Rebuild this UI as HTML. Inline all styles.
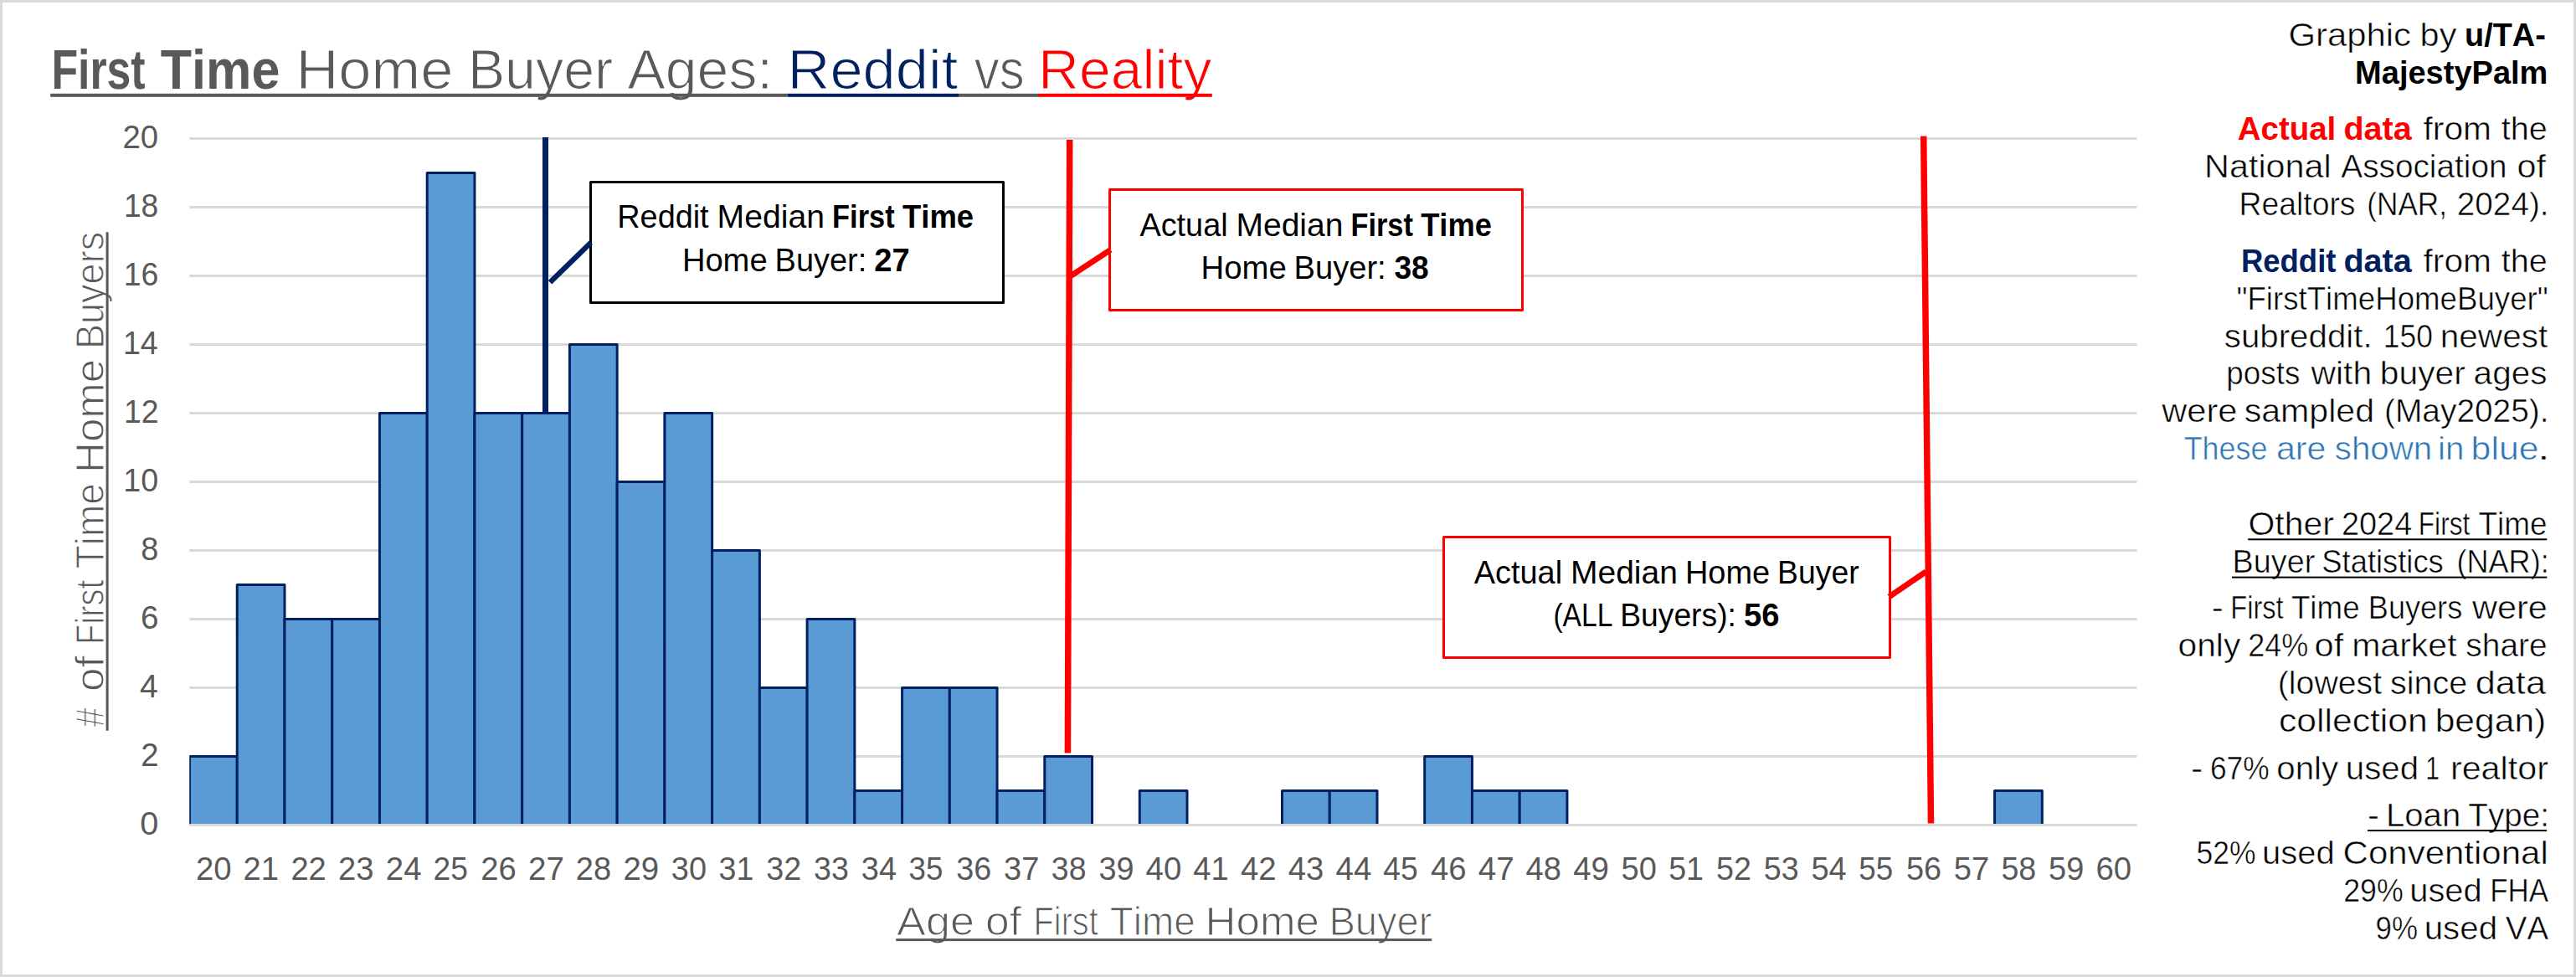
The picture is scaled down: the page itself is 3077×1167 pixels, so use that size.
<!DOCTYPE html>
<html lang="en"><head><meta charset="utf-8"><title>First Time Home Buyer Ages: Reddit vs Reality</title>
<style>html,body{margin:0;padding:0;background:#fff;}svg{display:block;font-family:"Liberation Sans",sans-serif;}text{font-kerning:none;}</style></head><body>
<svg width="3077" height="1167" viewBox="0 0 3077 1167">
<rect x="0" y="0" width="3077" height="1167" fill="#fff"/>
<rect x="1.5" y="1.5" width="3074" height="1164" fill="none" stroke="#D9D9D9" stroke-width="3"/>
<rect x="226.3" y="902.0" width="2326.3" height="3" fill="#D9D9D9"/>
<rect x="226.3" y="820.0" width="2326.3" height="3" fill="#D9D9D9"/>
<rect x="226.3" y="738.0" width="2326.3" height="3" fill="#D9D9D9"/>
<rect x="226.3" y="656.0" width="2326.3" height="3" fill="#D9D9D9"/>
<rect x="226.3" y="574.0" width="2326.3" height="3" fill="#D9D9D9"/>
<rect x="226.3" y="492.0" width="2326.3" height="3" fill="#D9D9D9"/>
<rect x="226.3" y="410.0" width="2326.3" height="3" fill="#D9D9D9"/>
<rect x="226.3" y="328.0" width="2326.3" height="3" fill="#D9D9D9"/>
<rect x="226.3" y="246.0" width="2326.3" height="3" fill="#D9D9D9"/>
<rect x="226.3" y="164.0" width="2326.3" height="3" fill="#D9D9D9"/>
<rect x="648" y="164" width="7" height="329.5" fill="#002060"/>
<clipPath id="pc"><rect x="226.3" y="100" width="2326.3" height="885.5"/></clipPath>
<g clip-path="url(#pc)" fill="#5B9BD5" stroke="#002060" stroke-width="3" stroke-linejoin="round">
<rect x="226.50" y="903.50" width="56.74" height="87.00"/>
<rect x="283.24" y="698.50" width="56.74" height="292.00"/>
<rect x="339.98" y="739.50" width="56.74" height="251.00"/>
<rect x="396.72" y="739.50" width="56.74" height="251.00"/>
<rect x="453.46" y="493.50" width="56.74" height="497.00"/>
<rect x="510.20" y="206.50" width="56.74" height="784.00"/>
<rect x="566.93" y="493.50" width="56.74" height="497.00"/>
<rect x="623.67" y="493.50" width="56.74" height="497.00"/>
<rect x="680.41" y="411.50" width="56.74" height="579.00"/>
<rect x="737.15" y="575.50" width="56.74" height="415.00"/>
<rect x="793.89" y="493.50" width="56.74" height="497.00"/>
<rect x="850.63" y="657.50" width="56.74" height="333.00"/>
<rect x="907.37" y="821.50" width="56.74" height="169.00"/>
<rect x="964.11" y="739.50" width="56.74" height="251.00"/>
<rect x="1020.85" y="944.50" width="56.74" height="46.00"/>
<rect x="1077.59" y="821.50" width="56.74" height="169.00"/>
<rect x="1134.32" y="821.50" width="56.74" height="169.00"/>
<rect x="1191.06" y="944.50" width="56.74" height="46.00"/>
<rect x="1247.80" y="903.50" width="56.74" height="87.00"/>
<rect x="1361.28" y="944.50" width="56.74" height="46.00"/>
<rect x="1531.50" y="944.50" width="56.74" height="46.00"/>
<rect x="1588.24" y="944.50" width="56.74" height="46.00"/>
<rect x="1701.71" y="903.50" width="56.74" height="87.00"/>
<rect x="1758.45" y="944.50" width="56.74" height="46.00"/>
<rect x="1815.19" y="944.50" width="56.74" height="46.00"/>
<rect x="2382.58" y="944.50" width="56.74" height="46.00"/>
</g>
<rect x="226.3" y="984.0" width="2326.3" height="3" fill="#D9D9D9"/>
<text y="997.1" font-size="38.30"><tspan x="167.2" fill="#595959" textLength="22.1" lengthAdjust="spacingAndGlyphs">0</tspan></text>
<text y="915.1" font-size="38.30"><tspan x="168.3" fill="#595959" textLength="21.3" lengthAdjust="spacingAndGlyphs">2</tspan></text>
<text y="833.1" font-size="38.30"><tspan x="167.1" fill="#595959" textLength="21.8" lengthAdjust="spacingAndGlyphs">4</tspan></text>
<text y="751.1" font-size="38.30"><tspan x="167.9" fill="#595959" textLength="21.5" lengthAdjust="spacingAndGlyphs">6</tspan></text>
<text y="669.1" font-size="38.30"><tspan x="168.3" fill="#595959" textLength="21.1" lengthAdjust="spacingAndGlyphs">8</tspan></text>
<text y="587.1" font-size="38.30"><tspan x="147.3" fill="#595959" textLength="41.9" lengthAdjust="spacingAndGlyphs">10</tspan></text>
<text y="505.1" font-size="38.30"><tspan x="148.0" fill="#595959" textLength="41.6" lengthAdjust="spacingAndGlyphs">12</tspan></text>
<text y="423.1" font-size="38.30"><tspan x="146.9" fill="#595959" textLength="41.9" lengthAdjust="spacingAndGlyphs">14</tspan></text>
<text y="341.1" font-size="38.30"><tspan x="147.7" fill="#595959" textLength="41.7" lengthAdjust="spacingAndGlyphs">16</tspan></text>
<text y="259.1" font-size="38.30"><tspan x="147.9" fill="#595959" textLength="41.4" lengthAdjust="spacingAndGlyphs">18</tspan></text>
<text y="177.1" font-size="38.30"><tspan x="146.5" fill="#595959" textLength="42.7" lengthAdjust="spacingAndGlyphs">20</tspan></text>
<text y="1050.9" font-size="38.30"><tspan x="233.9" fill="#595959" textLength="42.7" lengthAdjust="spacingAndGlyphs">20</tspan></text>
<text y="1050.9" font-size="38.30"><tspan x="290.6" fill="#595959" textLength="42.3" lengthAdjust="spacingAndGlyphs">21</tspan></text>
<text y="1050.9" font-size="38.30"><tspan x="347.4" fill="#595959" textLength="42.4" lengthAdjust="spacingAndGlyphs">22</tspan></text>
<text y="1050.9" font-size="38.30"><tspan x="404.1" fill="#595959" textLength="42.4" lengthAdjust="spacingAndGlyphs">23</tspan></text>
<text y="1050.9" font-size="38.30"><tspan x="460.8" fill="#595959" textLength="42.7" lengthAdjust="spacingAndGlyphs">24</tspan></text>
<text y="1050.9" font-size="38.30"><tspan x="517.6" fill="#595959" textLength="41.3" lengthAdjust="spacingAndGlyphs">25</tspan></text>
<text y="1050.9" font-size="38.30"><tspan x="574.3" fill="#595959" textLength="42.5" lengthAdjust="spacingAndGlyphs">26</tspan></text>
<text y="1050.9" font-size="38.30"><tspan x="631.1" fill="#595959" textLength="42.9" lengthAdjust="spacingAndGlyphs">27</tspan></text>
<text y="1050.9" font-size="38.30"><tspan x="687.8" fill="#595959" textLength="42.3" lengthAdjust="spacingAndGlyphs">28</tspan></text>
<text y="1050.9" font-size="38.30"><tspan x="744.5" fill="#595959" textLength="42.7" lengthAdjust="spacingAndGlyphs">29</tspan></text>
<text y="1050.9" font-size="38.30"><tspan x="801.8" fill="#595959" textLength="42.2" lengthAdjust="spacingAndGlyphs">30</tspan></text>
<text y="1050.9" font-size="38.30"><tspan x="858.6" fill="#595959" textLength="41.7" lengthAdjust="spacingAndGlyphs">31</tspan></text>
<text y="1050.9" font-size="38.30"><tspan x="915.3" fill="#595959" textLength="41.9" lengthAdjust="spacingAndGlyphs">32</tspan></text>
<text y="1050.9" font-size="38.30"><tspan x="972.1" fill="#595959" textLength="41.8" lengthAdjust="spacingAndGlyphs">33</tspan></text>
<text y="1050.9" font-size="38.30"><tspan x="1028.8" fill="#595959" textLength="42.2" lengthAdjust="spacingAndGlyphs">34</tspan></text>
<text y="1050.9" font-size="38.30"><tspan x="1085.6" fill="#595959" textLength="40.8" lengthAdjust="spacingAndGlyphs">35</tspan></text>
<text y="1050.9" font-size="38.30"><tspan x="1142.3" fill="#595959" textLength="42.0" lengthAdjust="spacingAndGlyphs">36</tspan></text>
<text y="1050.9" font-size="38.30"><tspan x="1199.0" fill="#595959" textLength="42.3" lengthAdjust="spacingAndGlyphs">37</tspan></text>
<text y="1050.9" font-size="38.30"><tspan x="1255.8" fill="#595959" textLength="41.7" lengthAdjust="spacingAndGlyphs">38</tspan></text>
<text y="1050.9" font-size="38.30"><tspan x="1312.5" fill="#595959" textLength="42.1" lengthAdjust="spacingAndGlyphs">39</tspan></text>
<text y="1050.9" font-size="38.30"><tspan x="1368.6" fill="#595959" textLength="42.8" lengthAdjust="spacingAndGlyphs">40</tspan></text>
<text y="1050.9" font-size="38.30"><tspan x="1425.3" fill="#595959" textLength="42.4" lengthAdjust="spacingAndGlyphs">41</tspan></text>
<text y="1050.9" font-size="38.30"><tspan x="1482.0" fill="#595959" textLength="42.6" lengthAdjust="spacingAndGlyphs">42</tspan></text>
<text y="1050.9" font-size="38.30"><tspan x="1538.8" fill="#595959" textLength="42.5" lengthAdjust="spacingAndGlyphs">43</tspan></text>
<text y="1050.9" font-size="38.30"><tspan x="1595.5" fill="#595959" textLength="42.8" lengthAdjust="spacingAndGlyphs">44</tspan></text>
<text y="1050.9" font-size="38.30"><tspan x="1652.3" fill="#595959" textLength="41.5" lengthAdjust="spacingAndGlyphs">45</tspan></text>
<text y="1050.9" font-size="38.30"><tspan x="1709.0" fill="#595959" textLength="42.6" lengthAdjust="spacingAndGlyphs">46</tspan></text>
<text y="1050.9" font-size="38.30"><tspan x="1765.7" fill="#595959" textLength="43.0" lengthAdjust="spacingAndGlyphs">47</tspan></text>
<text y="1050.9" font-size="38.30"><tspan x="1822.5" fill="#595959" textLength="42.4" lengthAdjust="spacingAndGlyphs">48</tspan></text>
<text y="1050.9" font-size="38.30"><tspan x="1879.2" fill="#595959" textLength="42.8" lengthAdjust="spacingAndGlyphs">49</tspan></text>
<text y="1050.9" font-size="38.30"><tspan x="1936.5" fill="#595959" textLength="42.3" lengthAdjust="spacingAndGlyphs">50</tspan></text>
<text y="1050.9" font-size="38.30"><tspan x="1993.2" fill="#595959" textLength="41.8" lengthAdjust="spacingAndGlyphs">51</tspan></text>
<text y="1050.9" font-size="38.30"><tspan x="2050.0" fill="#595959" textLength="42.0" lengthAdjust="spacingAndGlyphs">52</tspan></text>
<text y="1050.9" font-size="38.30"><tspan x="2106.7" fill="#595959" textLength="41.9" lengthAdjust="spacingAndGlyphs">53</tspan></text>
<text y="1050.9" font-size="38.30"><tspan x="2163.4" fill="#595959" textLength="42.3" lengthAdjust="spacingAndGlyphs">54</tspan></text>
<text y="1050.9" font-size="38.30"><tspan x="2220.2" fill="#595959" textLength="40.9" lengthAdjust="spacingAndGlyphs">55</tspan></text>
<text y="1050.9" font-size="38.30"><tspan x="2276.9" fill="#595959" textLength="42.1" lengthAdjust="spacingAndGlyphs">56</tspan></text>
<text y="1050.9" font-size="38.30"><tspan x="2333.7" fill="#595959" textLength="42.5" lengthAdjust="spacingAndGlyphs">57</tspan></text>
<text y="1050.9" font-size="38.30"><tspan x="2390.4" fill="#595959" textLength="41.8" lengthAdjust="spacingAndGlyphs">58</tspan></text>
<text y="1050.9" font-size="38.30"><tspan x="2447.1" fill="#595959" textLength="42.2" lengthAdjust="spacingAndGlyphs">59</tspan></text>
<text y="1050.9" font-size="38.30"><tspan x="2503.4" fill="#595959" textLength="42.7" lengthAdjust="spacingAndGlyphs">60</tspan></text>
<line x1="1277.7" y1="167" x2="1275.4" y2="899.6" stroke="#FF0000" stroke-width="7.5"/>
<line x1="2297.7" y1="162.6" x2="2306.5" y2="983.5" stroke="#FF0000" stroke-width="7.5"/>
<rect x="705.5" y="217.5" width="493.0" height="144.0" fill="#fff" stroke="#000" stroke-width="3.0" stroke-linejoin="round"/>
<rect x="1325.5" y="226.5" width="493.0" height="144.0" fill="#fff" stroke="#FF0000" stroke-width="3.0" stroke-linejoin="round"/>
<rect x="1724.5" y="641.5" width="533.0" height="144.0" fill="#fff" stroke="#FF0000" stroke-width="3.0" stroke-linejoin="round"/>
<line x1="657.0" y1="337.2" x2="705.8" y2="289.7" stroke="#002060" stroke-width="6.3"/>
<line x1="1277.4" y1="330.7" x2="1326.6" y2="298.3" stroke="#FF0000" stroke-width="7"/>
<line x1="2256.5" y1="712.8" x2="2300.6" y2="682.8" stroke="#FF0000" stroke-width="7"/>
<text y="272.2" font-size="38.90"><tspan x="737.3" fill="#000" textLength="109.3" lengthAdjust="spacingAndGlyphs">Reddit</tspan> <tspan x="856.6" fill="#000" textLength="128.3" lengthAdjust="spacingAndGlyphs">Median</tspan> <tspan x="994.1" fill="#000" font-weight="bold" textLength="74.5" lengthAdjust="spacingAndGlyphs">First</tspan> <tspan x="1078.1" fill="#000" font-weight="bold" textLength="85.0" lengthAdjust="spacingAndGlyphs">Time</tspan></text>
<text y="323.5" font-size="38.90"><tspan x="814.9" fill="#000" textLength="101.7" lengthAdjust="spacingAndGlyphs">Home</tspan> <tspan x="925.6" fill="#000" textLength="109.6" lengthAdjust="spacingAndGlyphs">Buyer:</tspan> <tspan x="1044.2" fill="#000" font-weight="bold" textLength="42.5" lengthAdjust="spacingAndGlyphs">27</tspan></text>
<text y="282.2" font-size="38.90"><tspan x="1361.4" fill="#000" textLength="105.2" lengthAdjust="spacingAndGlyphs">Actual</tspan> <tspan x="1476.5" fill="#000" textLength="127.9" lengthAdjust="spacingAndGlyphs">Median</tspan> <tspan x="1613.6" fill="#000" font-weight="bold" textLength="74.2" lengthAdjust="spacingAndGlyphs">First</tspan> <tspan x="1697.2" fill="#000" font-weight="bold" textLength="84.7" lengthAdjust="spacingAndGlyphs">Time</tspan></text>
<text y="333.2" font-size="38.90"><tspan x="1434.5" fill="#000" textLength="102.2" lengthAdjust="spacingAndGlyphs">Home</tspan> <tspan x="1545.6" fill="#000" textLength="110.1" lengthAdjust="spacingAndGlyphs">Buyer:</tspan> <tspan x="1665.4" fill="#000" font-weight="bold" textLength="41.3" lengthAdjust="spacingAndGlyphs">38</tspan></text>
<text y="696.5" font-size="38.90"><tspan x="1760.8" fill="#000" textLength="105.3" lengthAdjust="spacingAndGlyphs">Actual</tspan> <tspan x="1876.0" fill="#000" textLength="127.9" lengthAdjust="spacingAndGlyphs">Median</tspan> <tspan x="2012.9" fill="#000" textLength="101.2" lengthAdjust="spacingAndGlyphs">Home</tspan> <tspan x="2123.1" fill="#000" textLength="97.5" lengthAdjust="spacingAndGlyphs">Buyer</tspan></text>
<text y="747.7" font-size="38.90"><tspan x="1855.4" fill="#000" textLength="71.0" lengthAdjust="spacingAndGlyphs">(ALL</tspan> <tspan x="1935.2" fill="#000" textLength="138.7" lengthAdjust="spacingAndGlyphs">Buyers):</tspan> <tspan x="2083.0" fill="#000" font-weight="bold" textLength="42.5" lengthAdjust="spacingAndGlyphs">56</tspan></text>
<text y="105.6" font-size="66.90"><tspan x="61.4" fill="#595959" font-weight="bold" textLength="112.2" lengthAdjust="spacingAndGlyphs">First</tspan> <tspan x="191.8" fill="#595959" font-weight="bold" textLength="142.6" lengthAdjust="spacingAndGlyphs">Time</tspan> <tspan x="353.5" fill="#595959" stroke="#fff" stroke-width="1.20" textLength="187.8" lengthAdjust="spacingAndGlyphs">Home</tspan> <tspan x="558.9" fill="#595959" stroke="#fff" stroke-width="1.20" textLength="173.2" lengthAdjust="spacingAndGlyphs">Buyer</tspan> <tspan x="749.6" fill="#595959" stroke="#fff" stroke-width="1.20" textLength="173.6" lengthAdjust="spacingAndGlyphs">Ages:</tspan> <tspan x="940.5" fill="#002060" stroke="#fff" stroke-width="1.20" textLength="203.8" lengthAdjust="spacingAndGlyphs">Reddit</tspan> <tspan x="1163.8" fill="#595959" stroke="#fff" stroke-width="1.20" textLength="59.8" lengthAdjust="spacingAndGlyphs">vs</tspan> <tspan x="1240.0" fill="#FF0000" stroke="#fff" stroke-width="1.20" textLength="207.3" lengthAdjust="spacingAndGlyphs">Reality</tspan></text>
<rect x="60.2" y="111.8" width="880.5" height="4" fill="#595959"/>
<rect x="940.7" y="111.8" width="204.3" height="4" fill="#002060"/>
<rect x="1145" y="111.8" width="95" height="4" fill="#595959"/>
<rect x="1240" y="111.8" width="207.8" height="4" fill="#FF0000"/>
<text y="1117.0" font-size="47.40"><tspan x="1071.1" fill="#595959" stroke="#fff" stroke-width="1.10" textLength="92.8" lengthAdjust="spacingAndGlyphs">Age</tspan> <tspan x="1177.1" fill="#595959" stroke="#fff" stroke-width="1.10" textLength="43.0" lengthAdjust="spacingAndGlyphs">of</tspan> <tspan x="1234.6" fill="#595959" stroke="#fff" stroke-width="1.10" textLength="77.1" lengthAdjust="spacingAndGlyphs">First</tspan> <tspan x="1325.8" fill="#595959" stroke="#fff" stroke-width="1.10" textLength="101.9" lengthAdjust="spacingAndGlyphs">Time</tspan> <tspan x="1439.6" fill="#595959" stroke="#fff" stroke-width="1.10" textLength="136.3" lengthAdjust="spacingAndGlyphs">Home</tspan> <tspan x="1587.4" fill="#595959" stroke="#fff" stroke-width="1.10" textLength="123.1" lengthAdjust="spacingAndGlyphs">Buyer</tspan></text>
<rect x="1070.2" y="1121.1" width="640" height="3" fill="#595959"/>
<g transform="translate(124.4,872.7) rotate(-90)">
<text y="0.0" font-size="47.40"><tspan x="4.2" fill="#595959" stroke="#fff" stroke-width="1.10" textLength="23.3" lengthAdjust="spacingAndGlyphs">#</tspan> <tspan x="46.8" fill="#595959" stroke="#fff" stroke-width="1.10" textLength="42.7" lengthAdjust="spacingAndGlyphs">of</tspan> <tspan x="102.7" fill="#595959" stroke="#fff" stroke-width="1.10" textLength="77.6" lengthAdjust="spacingAndGlyphs">First</tspan> <tspan x="193.5" fill="#595959" stroke="#fff" stroke-width="1.10" textLength="102.1" lengthAdjust="spacingAndGlyphs">Time</tspan> <tspan x="307.7" fill="#595959" stroke="#fff" stroke-width="1.10" textLength="136.3" lengthAdjust="spacingAndGlyphs">Home</tspan> <tspan x="455.7" fill="#595959" stroke="#fff" stroke-width="1.10" textLength="140.2" lengthAdjust="spacingAndGlyphs">Buyers</tspan></text>
<rect x="0" y="2.2" width="595.5" height="3" fill="#595959"/>
</g>
<text y="55.2" font-size="39.20"><tspan x="2733.4" fill="#000" stroke="#fff" stroke-width="0.55" textLength="146.6" lengthAdjust="spacingAndGlyphs">Graphic</tspan> <tspan x="2890.6" fill="#000" stroke="#fff" stroke-width="0.55" textLength="43.8" lengthAdjust="spacingAndGlyphs">by</tspan> <tspan x="2944.1" fill="#000" font-weight="bold" textLength="96.7" lengthAdjust="spacingAndGlyphs">u/TA-</tspan></text>
<text y="100.0" font-size="39.20"><tspan x="2813.1" fill="#000" font-weight="bold" textLength="230.3" lengthAdjust="spacingAndGlyphs">MajestyPalm</tspan></text>
<text y="166.6" font-size="39.20"><tspan x="2672.8" fill="#FF0000" font-weight="bold" textLength="117.5" lengthAdjust="spacingAndGlyphs">Actual</tspan> <tspan x="2799.4" fill="#FF0000" font-weight="bold" textLength="81.2" lengthAdjust="spacingAndGlyphs">data</tspan> <tspan x="2894.5" fill="#000" stroke="#fff" stroke-width="0.55" textLength="81.6" lengthAdjust="spacingAndGlyphs">from</tspan> <tspan x="2987.7" fill="#000" stroke="#fff" stroke-width="0.55" textLength="55.1" lengthAdjust="spacingAndGlyphs">the</tspan></text>
<text y="211.8" font-size="39.20"><tspan x="2633.1" fill="#000" stroke="#fff" stroke-width="0.55" textLength="151.7" lengthAdjust="spacingAndGlyphs">National</tspan> <tspan x="2796.3" fill="#000" stroke="#fff" stroke-width="0.55" textLength="198.2" lengthAdjust="spacingAndGlyphs">Association</tspan> <tspan x="3006.5" fill="#000" stroke="#fff" stroke-width="0.55" textLength="34.5" lengthAdjust="spacingAndGlyphs">of</tspan></text>
<text y="256.6" font-size="39.20"><tspan x="2674.6" fill="#000" stroke="#fff" stroke-width="0.55" textLength="138.9" lengthAdjust="spacingAndGlyphs">Realtors</tspan> <tspan x="2827.3" fill="#000" stroke="#fff" stroke-width="0.55" textLength="95.7" lengthAdjust="spacingAndGlyphs">(NAR,</tspan> <tspan x="2934.8" fill="#000" stroke="#fff" stroke-width="0.55" textLength="109.8" lengthAdjust="spacingAndGlyphs">2024).</tspan></text>
<text y="325.0" font-size="39.20"><tspan x="2677.0" fill="#002060" font-weight="bold" textLength="113.4" lengthAdjust="spacingAndGlyphs">Reddit</tspan> <tspan x="2799.4" fill="#002060" font-weight="bold" textLength="81.2" lengthAdjust="spacingAndGlyphs">data</tspan> <tspan x="2894.5" fill="#000" stroke="#fff" stroke-width="0.55" textLength="81.6" lengthAdjust="spacingAndGlyphs">from</tspan> <tspan x="2987.7" fill="#000" stroke="#fff" stroke-width="0.55" textLength="55.1" lengthAdjust="spacingAndGlyphs">the</tspan></text>
<text y="369.9" font-size="39.20"><tspan x="2671.4" fill="#000" stroke="#fff" stroke-width="0.55" textLength="372.4" lengthAdjust="spacingAndGlyphs">"FirstTimeHomeBuyer"</tspan></text>
<text y="414.5" font-size="39.20"><tspan x="2656.8" fill="#000" stroke="#fff" stroke-width="0.55" textLength="176.8" lengthAdjust="spacingAndGlyphs">subreddit.</tspan> <tspan x="2846.8" fill="#000" stroke="#fff" stroke-width="0.55" textLength="59.1" lengthAdjust="spacingAndGlyphs">150</tspan> <tspan x="2914.8" fill="#000" stroke="#fff" stroke-width="0.55" textLength="128.4" lengthAdjust="spacingAndGlyphs">newest</tspan></text>
<text y="459.0" font-size="39.20"><tspan x="2659.3" fill="#000" stroke="#fff" stroke-width="0.55" textLength="88.1" lengthAdjust="spacingAndGlyphs">posts</tspan> <tspan x="2760.5" fill="#000" stroke="#fff" stroke-width="0.55" textLength="72.7" lengthAdjust="spacingAndGlyphs">with</tspan> <tspan x="2842.8" fill="#000" stroke="#fff" stroke-width="0.55" textLength="102.0" lengthAdjust="spacingAndGlyphs">buyer</tspan> <tspan x="2954.6" fill="#000" stroke="#fff" stroke-width="0.55" textLength="87.9" lengthAdjust="spacingAndGlyphs">ages</tspan></text>
<text y="503.8" font-size="39.20"><tspan x="2582.2" fill="#000" stroke="#fff" stroke-width="0.55" textLength="90.3" lengthAdjust="spacingAndGlyphs">were</tspan> <tspan x="2680.7" fill="#000" stroke="#fff" stroke-width="0.55" textLength="155.3" lengthAdjust="spacingAndGlyphs">sampled</tspan> <tspan x="2848.0" fill="#000" stroke="#fff" stroke-width="0.55" textLength="196.6" lengthAdjust="spacingAndGlyphs">(May2025).</tspan></text>
<text y="548.5" font-size="39.20"><tspan x="2608.7" fill="#2E75B6" stroke="#fff" stroke-width="0.55" textLength="99.8" lengthAdjust="spacingAndGlyphs">These</tspan> <tspan x="2718.9" fill="#2E75B6" stroke="#fff" stroke-width="0.55" textLength="59.5" lengthAdjust="spacingAndGlyphs">are</tspan> <tspan x="2788.8" fill="#2E75B6" stroke="#fff" stroke-width="0.55" textLength="116.4" lengthAdjust="spacingAndGlyphs">shown</tspan> <tspan x="2912.0" fill="#2E75B6" stroke="#fff" stroke-width="0.55" textLength="31.4" lengthAdjust="spacingAndGlyphs">in</tspan> <tspan x="2951.6" fill="#2E75B6" stroke="#fff" stroke-width="0.55" textLength="80.9" lengthAdjust="spacingAndGlyphs">blue</tspan><tspan x="3030.8" fill="#000" stroke="#fff" stroke-width="0.55" textLength="15.2" lengthAdjust="spacingAndGlyphs">.</tspan></text>
<text y="638.7" font-size="39.20"><tspan x="2685.5" fill="#000" stroke="#fff" stroke-width="0.55" textLength="102.3" lengthAdjust="spacingAndGlyphs">Other</tspan> <tspan x="2796.9" fill="#000" stroke="#fff" stroke-width="0.55" textLength="84.4" lengthAdjust="spacingAndGlyphs">2024</tspan> <tspan x="2888.8" fill="#000" stroke="#fff" stroke-width="0.55" textLength="61.5" lengthAdjust="spacingAndGlyphs">First</tspan> <tspan x="2960.5" fill="#000" stroke="#fff" stroke-width="0.55" textLength="82.2" lengthAdjust="spacingAndGlyphs">Time</tspan></text>
<text y="683.7" font-size="39.20"><tspan x="2666.6" fill="#000" stroke="#fff" stroke-width="0.55" textLength="98.7" lengthAdjust="spacingAndGlyphs">Buyer</tspan> <tspan x="2773.3" fill="#000" stroke="#fff" stroke-width="0.55" textLength="145.5" lengthAdjust="spacingAndGlyphs">Statistics</tspan> <tspan x="2934.5" fill="#000" stroke="#fff" stroke-width="0.55" textLength="110.2" lengthAdjust="spacingAndGlyphs">(NAR):</tspan></text>
<text y="739.3" font-size="39.20"><tspan x="2641.7" fill="#000" stroke="#fff" stroke-width="0.55" textLength="14.0" lengthAdjust="spacingAndGlyphs">-</tspan> <tspan x="2664.2" fill="#000" stroke="#fff" stroke-width="0.55" textLength="63.5" lengthAdjust="spacingAndGlyphs">First</tspan> <tspan x="2736.9" fill="#000" stroke="#fff" stroke-width="0.55" textLength="81.7" lengthAdjust="spacingAndGlyphs">Time</tspan> <tspan x="2828.8" fill="#000" stroke="#fff" stroke-width="0.55" textLength="112.4" lengthAdjust="spacingAndGlyphs">Buyers</tspan> <tspan x="2953.0" fill="#000" stroke="#fff" stroke-width="0.55" textLength="89.9" lengthAdjust="spacingAndGlyphs">were</tspan></text>
<text y="784.3" font-size="39.20"><tspan x="2601.5" fill="#000" stroke="#fff" stroke-width="0.55" textLength="74.8" lengthAdjust="spacingAndGlyphs">only</tspan> <tspan x="2685.2" fill="#000" stroke="#fff" stroke-width="0.55" textLength="72.1" lengthAdjust="spacingAndGlyphs">24%</tspan> <tspan x="2764.5" fill="#000" stroke="#fff" stroke-width="0.55" textLength="34.7" lengthAdjust="spacingAndGlyphs">of</tspan> <tspan x="2809.2" fill="#000" stroke="#fff" stroke-width="0.55" textLength="125.4" lengthAdjust="spacingAndGlyphs">market</tspan> <tspan x="2945.3" fill="#000" stroke="#fff" stroke-width="0.55" textLength="97.4" lengthAdjust="spacingAndGlyphs">share</tspan></text>
<text y="829.3" font-size="39.20"><tspan x="2720.8" fill="#000" stroke="#fff" stroke-width="0.55" textLength="124.3" lengthAdjust="spacingAndGlyphs">(lowest</tspan> <tspan x="2854.9" fill="#000" stroke="#fff" stroke-width="0.55" textLength="92.4" lengthAdjust="spacingAndGlyphs">since</tspan> <tspan x="2956.7" fill="#000" stroke="#fff" stroke-width="0.55" textLength="84.3" lengthAdjust="spacingAndGlyphs">data</tspan></text>
<text y="874.3" font-size="39.20"><tspan x="2721.9" fill="#000" stroke="#fff" stroke-width="0.55" textLength="177.9" lengthAdjust="spacingAndGlyphs">collection</tspan> <tspan x="2908.7" fill="#000" stroke="#fff" stroke-width="0.55" textLength="132.6" lengthAdjust="spacingAndGlyphs">began)</tspan></text>
<text y="930.6" font-size="39.20"><tspan x="2616.9" fill="#000" stroke="#fff" stroke-width="0.55" textLength="14.3" lengthAdjust="spacingAndGlyphs">-</tspan> <tspan x="2639.9" fill="#000" stroke="#fff" stroke-width="0.55" textLength="70.8" lengthAdjust="spacingAndGlyphs">67%</tspan> <tspan x="2719.2" fill="#000" stroke="#fff" stroke-width="0.55" textLength="74.1" lengthAdjust="spacingAndGlyphs">only</tspan> <tspan x="2801.8" fill="#000" stroke="#fff" stroke-width="0.55" textLength="87.2" lengthAdjust="spacingAndGlyphs">used</tspan> <tspan x="2897.2" fill="#000" stroke="#fff" stroke-width="0.55" textLength="16.8" lengthAdjust="spacingAndGlyphs">1</tspan> <tspan x="2926.9" fill="#000" stroke="#fff" stroke-width="0.55" textLength="117.1" lengthAdjust="spacingAndGlyphs">realtor</tspan></text>
<text y="986.5" font-size="39.20"><tspan x="2828.0" fill="#000" stroke="#fff" stroke-width="0.55" textLength="14.0" lengthAdjust="spacingAndGlyphs">-</tspan> <tspan x="2849.9" fill="#000" stroke="#fff" stroke-width="0.55" textLength="89.4" lengthAdjust="spacingAndGlyphs">Loan</tspan> <tspan x="2948.3" fill="#000" stroke="#fff" stroke-width="0.55" textLength="96.6" lengthAdjust="spacingAndGlyphs">Type:</tspan></text>
<text y="1031.8" font-size="39.20"><tspan x="2623.6" fill="#000" stroke="#fff" stroke-width="0.55" textLength="71.1" lengthAdjust="spacingAndGlyphs">52%</tspan> <tspan x="2701.9" fill="#000" stroke="#fff" stroke-width="0.55" textLength="86.8" lengthAdjust="spacingAndGlyphs">used</tspan> <tspan x="2798.6" fill="#000" stroke="#fff" stroke-width="0.55" textLength="245.2" lengthAdjust="spacingAndGlyphs">Conventional</tspan></text>
<text y="1076.7" font-size="39.20"><tspan x="2799.2" fill="#000" stroke="#fff" stroke-width="0.55" textLength="71.7" lengthAdjust="spacingAndGlyphs">29%</tspan> <tspan x="2878.2" fill="#000" stroke="#fff" stroke-width="0.55" textLength="86.6" lengthAdjust="spacingAndGlyphs">used</tspan> <tspan x="2974.2" fill="#000" stroke="#fff" stroke-width="0.55" textLength="70.0" lengthAdjust="spacingAndGlyphs">FHA</tspan></text>
<text y="1122.0" font-size="39.20"><tspan x="2837.6" fill="#000" stroke="#fff" stroke-width="0.55" textLength="50.5" lengthAdjust="spacingAndGlyphs">9%</tspan> <tspan x="2895.7" fill="#000" stroke="#fff" stroke-width="0.55" textLength="87.4" lengthAdjust="spacingAndGlyphs">used</tspan> <tspan x="2992.8" fill="#000" stroke="#fff" stroke-width="0.55" textLength="51.4" lengthAdjust="spacingAndGlyphs">VA</tspan></text>
<rect x="2685.2" y="643.3" width="357.1" height="2" fill="#000"/>
<rect x="2666" y="688.6" width="376.3" height="2" fill="#000"/>
<rect x="2828.1" y="991.1" width="214" height="2" fill="#000"/>
</svg></body></html>
